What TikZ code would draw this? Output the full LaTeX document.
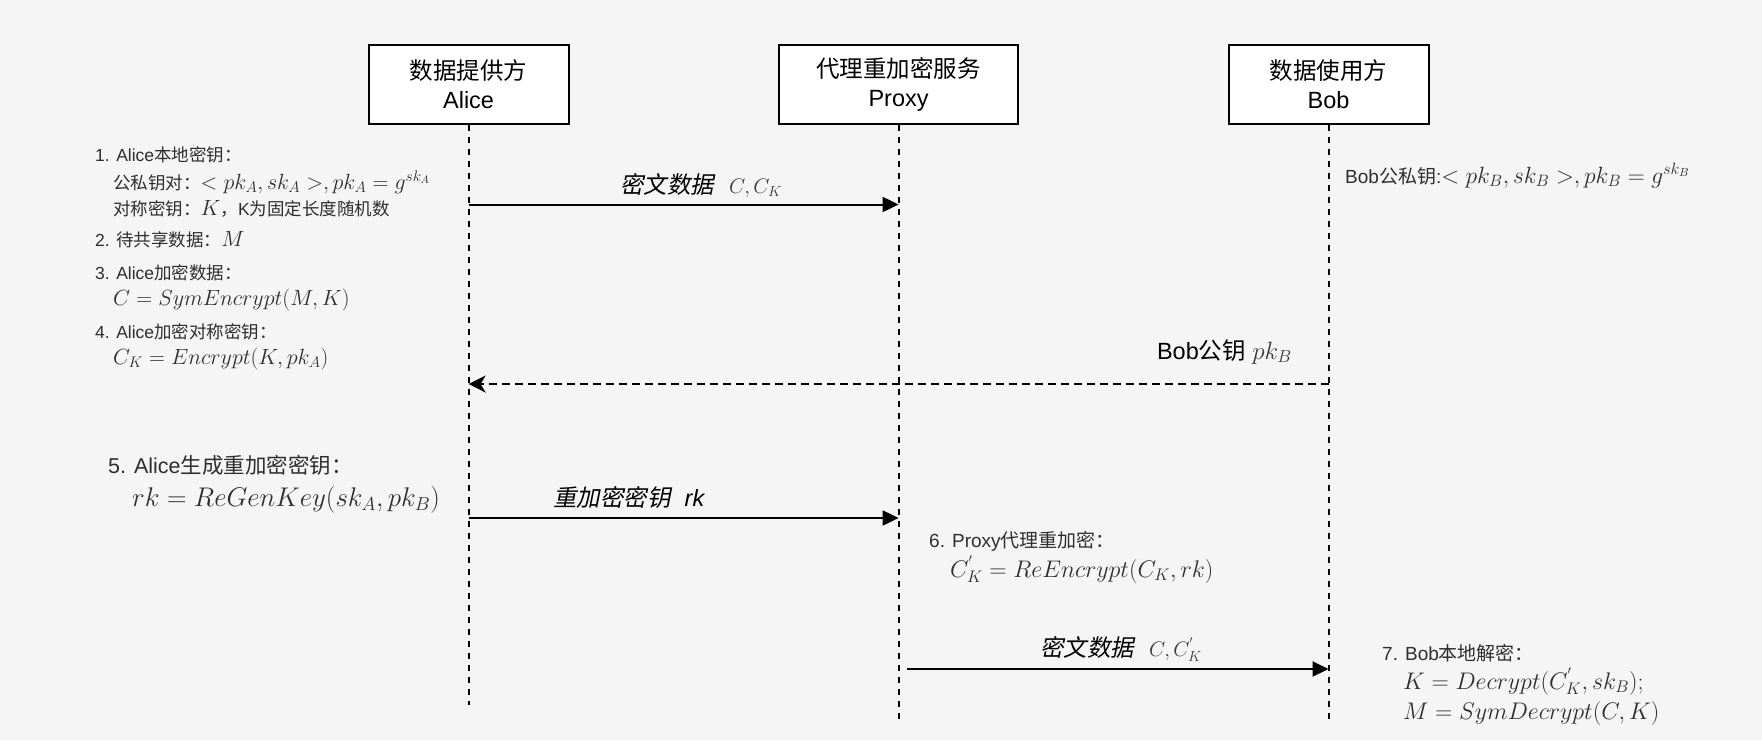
\RequirePackage{fix-cm}
\documentclass[tikz,border=0pt]{standalone}
\usepackage[no-math]{fontspec}
\setmainfont{Liberation Sans}
\newfontfamily\cjk{Noto Sans CJK SC}
\newfontfamily\cjkit{Noto Sans CJK SC}[FakeSlant=0.2]
\usetikzlibrary{arrows.meta, positioning}

\definecolor{bgcol}{HTML}{F5F5F5}
\definecolor{notecol}{HTML}{2E2E2E}
\definecolor{mathcol}{HTML}{3A3A3A}

\newcommand{\zh}[1]{{\cjk #1}}
\newcommand{\zhit}[1]{{\cjkit #1}}
\newcommand{\mth}[2]{{\fontsize{#1}{#1}\selectfont$#2$}}

\tikzset{
  party/.style={draw, line width=2pt, fill=white, align=center,
                font=\fontsize{23.5}{29}\selectfont,
                minimum height=78.6pt, inner sep=0pt},
  lifeline/.style={line width=2pt, dash pattern=on 6pt off 6pt},
  msg/.style={line width=2pt, -{Triangle[length=16pt,width=15pt]}},
  reply/.style={line width=2pt, dash pattern=on 8pt off 5pt,
                -{Stealth[length=17pt,width=17pt,inset=5pt]}},
  msglabel/.style={anchor=base west, inner sep=0pt,
                   font=\fontsize{23.5}{28}\selectfont},
  note/.style={anchor=base west, inner sep=0pt, text=notecol},
}

\begin{document}
\begin{tikzpicture}[x=1pt, y=-1pt]
    \fill[bgcol] (0,0) rectangle (1762,740);
    \useasboundingbox (0,0) rectangle (1762,740);

    % participants
    \node[party, minimum width=200pt](alice) at (468.6,84.3)
         {\zh{数据提供方}\\Alice};
    \node[party, minimum width=239.3pt](proxy) at (898.6,84.3)
         {\zh{代理重加密服务}\\Proxy};
    \node[party, minimum width=200pt](bob) at (1328.5,84.3)
         {\zh{数据使用方}\\Bob};

    \coordinate (aliceEnd) at (468.6,705);
    \coordinate (proxyEnd) at (898.6,719);
    \coordinate (bobEnd) at (1328.5,719);
    \draw[lifeline] (alice) -- (aliceEnd);
    \draw[lifeline] (proxy) -- (proxyEnd);
    \draw[lifeline] (bob) -- (bobEnd);

    % messages
    \coordinate (m1s) at (468.6,204.5);
    \coordinate (m1e) at (898.6,204.5);
    \coordinate (m2s) at (1328.5,384);
    \coordinate (m2e) at (468.6,384);
    \coordinate (m3s) at (468.6,518);
    \coordinate (m3e) at (898.6,518);
    \coordinate (m4s) at (907,669);
    \coordinate (m4e) at (1328.5,669);
    \draw[msg] (m1s) -- (m1e);
    \draw[reply] (m2s) -- (m2e);
    \draw[msg] (m3s) -- (m3e);
    \draw[msg] (m4s) -- (m4e);

    \node[msglabel](lbl1) at (620,193)
         {\zhit{密文数据}\hspace{15pt}{\color{mathcol}\mth{21}{C, C_K}}};
    \node[msglabel, anchor=base east](lbl2) at (1292,359)
         {Bob\zh{公钥} {\color{mathcol}\mth{25}{pk_B}}};
    \node[msglabel](lbl3) at (553,506)
         {\zhit{重加密密钥}\hspace{14pt}\textit{rk}};
    \node[msglabel](lbl4) at (1040,656)
         {\zhit{密文数据}\hspace{15pt}{\color{mathcol}\mth{21}{C, C^{'}_K}}};

    % Alice notes
    \begin{scope}[every node/.append style={note, font=\fontsize{17.5}{20}\selectfont}]
    \node(n1a) at (95,161) {1. Alice\zh{本地密钥：}};
    \node(n1b) at (113,189) {\zh{公私钥对：}\mth{22}{<pk_A, sk_A>, pk_A = g^{sk_A}}};
    \node(n1c) at (113,215) {\zh{对称密钥：}\mth{22}{K}\zh{，}K\zh{为固定长度随机数}};
    \node(n2a) at (95,246) {2. \zh{待共享数据：}\mth{22}{M}};
    \node(n3a) at (95,279) {3. Alice\zh{加密数据：}};
    \node(n3b) at (113,305) {\mth{22}{C = SymEncrypt(M, K)}};
    \node(n4a) at (95,338) {4. Alice\zh{加密对称密钥：}};
    \node(n4b) at (113,364) {\mth{22}{C_K = Encrypt(K, pk_A)}};
    \end{scope}

    \node[note, font=\fontsize{21.5}{24}\selectfont](n5a) at (108,473)
         {5. Alice\zh{生成重加密密钥：}};
    \node[note](n5b) at (132,506) {\mth{27}{rk = ReGenKey(sk_A, pk_B)}};

    % Bob key pair
    \node[note, font=\fontsize{19}{22}\selectfont](nbob) at (1345,183)
         {Bob\zh{公私钥}:\mth{23.5}{<pk_B, sk_B>, pk_B = g^{sk_B}}};

    % Proxy re-encryption
    \node[note, font=\fontsize{19}{23}\selectfont](n6a) at (929,547)
         {6. Proxy\zh{代理重加密：}};
    \node[note](n6b) at (950,577) {\mth{24}{C^{'}_K = ReEncrypt(C_K, rk)}};

    % Bob decryption
    \node[note, font=\fontsize{19}{22}\selectfont](n7a) at (1382,660)
         {7. Bob\zh{本地解密：}};
    \node[note](n7b) at (1403,689) {\mth{24}{K = Decrypt(C^{'}_K, sk_B);}};
    \node[note](n7c) at (1403,719) {\mth{24}{M = SymDecrypt(C, K)}};
\end{tikzpicture}
\end{document}
